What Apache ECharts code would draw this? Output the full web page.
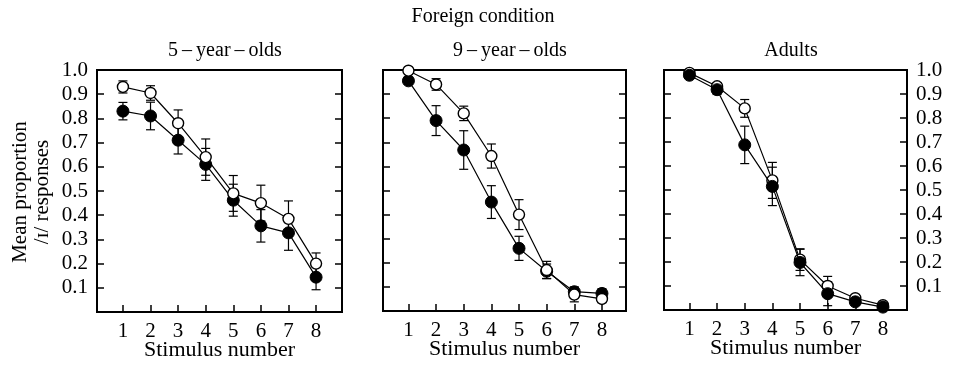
<!DOCTYPE html>
<html>
<head>
<meta charset="utf-8">
<script src="https://cdn.jsdelivr.net/npm/echarts@6/dist/echarts.min.js"></script>
<style>
  html, body { margin: 0; padding: 0; background: #fff; }
  #chart { width: 954px; height: 367px; }
</style>
</head>
<body>
<div id="chart"></div>
<script>
// Stimulus continuum steps (x axis)
const stimulus = [1, 2, 3, 4, 5, 6, 7, 8];
const yTickValues = [0.1, 0.2, 0.3, 0.4, 0.5, 0.6, 0.7, 0.8, 0.9];
const yLabelValues = [0.1, 0.2, 0.3, 0.4, 0.5, 0.6, 0.7, 0.8, 0.9, 1.0];

const panelTitles = ['5\u2009\u2013\u2009year\u2009\u2013\u2009olds', '9\u2009\u2013\u2009year\u2009\u2013\u2009olds', 'Adults'];

// Mean proportion of /ɪ/ responses, open and filled symbols, with error bar half-lengths
const openYoung = [0.93, 0.905, 0.78, 0.64, 0.49, 0.45, 0.385, 0.20];
const openYoungErr = [0.025, 0.03, 0.055, 0.075, 0.074, 0.074, 0.074, 0.044];
const filledYoung = [0.83, 0.81, 0.71, 0.61, 0.462, 0.356, 0.327, 0.144];
const filledYoungErr = [0.036, 0.057, 0.057, 0.066, 0.066, 0.067, 0.072, 0.052];

const openMid = [0.997, 0.94, 0.82, 0.643, 0.40, 0.17, 0.068, 0.05];
const openMidErr = [0, 0.024, 0.03, 0.05, 0.062, 0.036, 0.03, 0.015];
const filledMid = [0.955, 0.79, 0.668, 0.452, 0.26, 0.165, 0.08, 0.073];
const filledMidErr = [0.015, 0.062, 0.08, 0.068, 0.05, 0.03, 0.02, 0.02];

const openAdult = [0.988, 0.932, 0.84, 0.54, 0.21, 0.10, 0.049, 0.02];
const openAdultErr = [0.01, 0.015, 0.037, 0.075, 0.045, 0.04, 0.015, 0.01];
const filledAdult = [0.978, 0.918, 0.688, 0.515, 0.198, 0.068, 0.034, 0.012];
const filledAdultErr = [0.01, 0.02, 0.078, 0.08, 0.055, 0.05, 0.015, 0.01];

const panels = [
  { open: openYoung, openErr: openYoungErr, filled: filledYoung, filledErr: filledYoungErr, filledOnTop: false },
  { open: openMid, openErr: openMidErr, filled: filledMid, filledErr: filledMidErr, filledOnTop: false },
  { open: openAdult, openErr: openAdultErr, filled: filledAdult, filledErr: filledAdultErr, filledOnTop: true }
];

// Plot box placement of each panel
const layout = [
  { left: 97, top: 70, width: 245, height: 242, xMin: 0.06, xMax: 8.94, cx: 220 },
  { left: 383, top: 70, width: 243, height: 241, xMin: 0.08, xMax: 8.87, cx: 505 },
  { left: 664, top: 70, width: 243, height: 240, xMin: 0.08, xMax: 8.87, cx: 786 }
];

const FONT = 'Liberation Serif';
const textStyle = { fontFamily: FONT, fontSize: 21, color: '#000' };

const grids = [], xAxes = [], yAxes = [], series = [];

function errorBars(values, errs) {
  const out = [];
  values.forEach((v, i) => {
    if (errs[i] > 0) out.push([stimulus[i], v - errs[i], v + errs[i]]);
  });
  return out;
}

function renderErrorBar(params, api) {
  const x = api.value(0);
  const lo = api.coord([x, api.value(1)]);
  const hi = api.coord([x, api.value(2)]);
  const half = 4.5;
  const style = { stroke: '#000', lineWidth: 1.2 };
  return {
    type: 'group',
    children: [
      { type: 'line', shape: { x1: lo[0], y1: lo[1], x2: hi[0], y2: hi[1] }, style },
      { type: 'line', shape: { x1: lo[0] - half, y1: lo[1], x2: lo[0] + half, y2: lo[1] }, style },
      { type: 'line', shape: { x1: hi[0] - half, y1: hi[1], x2: hi[0] + half, y2: hi[1] }, style }
    ]
  };
}

panels.forEach((p, k) => {
  const L = layout[k];
  grids.push({
    left: L.left, top: L.top, width: L.width, height: L.height,
    outerBoundsMode: 'none', containLabel: false,
    show: true, borderColor: '#000', borderWidth: 2, backgroundColor: 'transparent'
  });
  xAxes.push({
    type: 'value', gridIndex: k, min: L.xMin, max: L.xMax,
    axisLine: { show: false },
    splitLine: { show: false },
    axisTick: { show: true, inside: true, length: 7, customValues: stimulus, lineStyle: { color: '#000', width: 1.5 } },
    axisLabel: { customValues: stimulus, margin: 9, ...textStyle },
    name: 'Stimulus number', nameLocation: 'middle', nameGap: 27, nameMoveOverlap: false,
    nameTextStyle: { fontFamily: FONT, fontSize: 22, color: '#000', verticalAlign: 'top' }
  });
  // left axis
  yAxes.push({
    type: 'value', gridIndex: k, position: 'left', min: 0, max: 1,
    axisLine: { show: false },
    splitLine: { show: false },
    axisTick: { show: true, inside: true, length: 7, customValues: yTickValues, lineStyle: { color: '#000', width: 1.5 } },
    axisLabel: {
      show: k === 0, customValues: yLabelValues, margin: 9,
      formatter: v => v.toFixed(1), ...textStyle
    }
  });
  // right axis
  yAxes.push({
    type: 'value', gridIndex: k, position: 'right', min: 0, max: 1,
    axisLine: { show: false },
    splitLine: { show: false },
    axisTick: { show: true, inside: true, length: 7, customValues: yTickValues, lineStyle: { color: '#000', width: 1.5 } },
    axisLabel: {
      show: k === 2, customValues: yLabelValues, margin: 9,
      formatter: v => v.toFixed(1), ...textStyle
    }
  });

  const yIdx = k * 2;
  const zOpen = p.filledOnTop ? 3 : 4;
  const zFilled = p.filledOnTop ? 4 : 3;

  series.push({
    type: 'custom', xAxisIndex: k, yAxisIndex: yIdx, z: 2,
    renderItem: renderErrorBar, data: errorBars(p.filled, p.filledErr), silent: true
  });
  series.push({
    type: 'custom', xAxisIndex: k, yAxisIndex: yIdx, z: 2,
    renderItem: renderErrorBar, data: errorBars(p.open, p.openErr), silent: true
  });
  series.push({
    type: 'line', xAxisIndex: k, yAxisIndex: yIdx, z: zFilled,
    data: stimulus.map((s, i) => [s, p.filled[i]]),
    symbol: 'circle', symbolSize: 12, showAllSymbol: true,
    lineStyle: { color: '#000', width: 1.2 },
    itemStyle: { color: '#000', borderColor: '#000', borderWidth: 1 },
    animation: false
  });
  series.push({
    type: 'line', xAxisIndex: k, yAxisIndex: yIdx, z: zOpen,
    data: stimulus.map((s, i) => [s, p.open[i]]),
    symbol: 'circle', symbolSize: 11, showAllSymbol: true,
    lineStyle: { color: '#000', width: 1.2 },
    itemStyle: { color: '#fff', borderColor: '#000', borderWidth: 1.4 },
    animation: false
  });
});

const titleFont = { fontFamily: FONT, fontSize: 20, fontWeight: 'normal', color: '#000' };
const titles = [
  { text: 'Foreign condition', left: 478, top: 2, textAlign: 'center', textStyle: titleFont }
];
panelTitles.forEach((t, k) => {
  titles.push({ text: t, left: layout[k].cx, top: 36, textAlign: 'center', textStyle: titleFont });
});

const chart = echarts.init(document.getElementById('chart'), null, { renderer: 'canvas' });
chart.setOption({
  animation: false,
  backgroundColor: '#fff',
  title: titles,
  grid: grids,
  xAxis: xAxes,
  yAxis: yAxes,
  series: series,
  graphic: [
    { type: 'text', x: 20, y: 192, rotation: Math.PI / 2,
      style: { text: 'Mean proportion', fontFamily: FONT, fontSize: 21, fill: '#000', align: 'center', verticalAlign: 'middle' } },
    { type: 'text', x: 42, y: 192, rotation: Math.PI / 2,
      style: { text: '/\u026A/ responses', fontFamily: FONT, fontSize: 21, fill: '#000', align: 'center', verticalAlign: 'middle' } }
  ]
});
</script>
</body>
</html>
